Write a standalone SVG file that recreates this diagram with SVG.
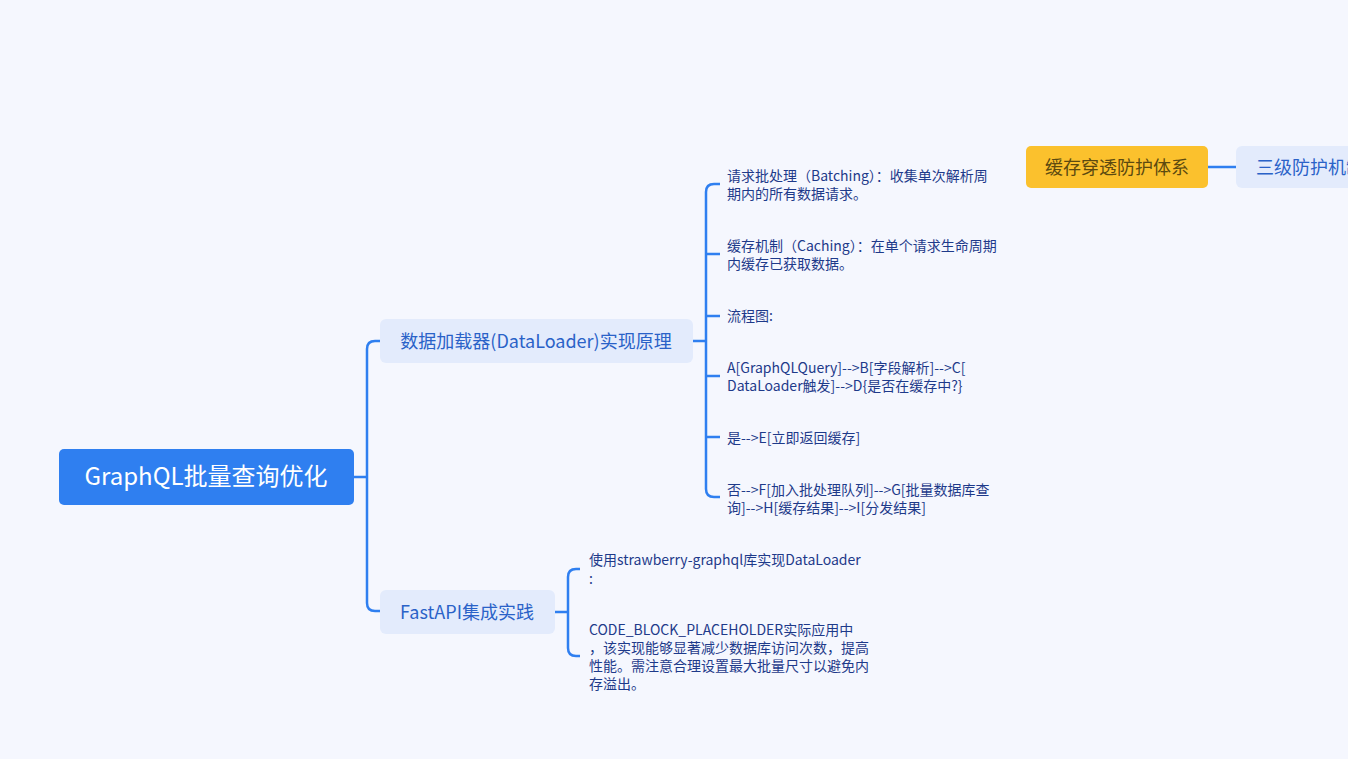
<svg xmlns="http://www.w3.org/2000/svg" width="1348" height="759" viewBox="0 0 1348 759">
<style>
text{font-family:"Noto Sans CJK SC","Noto Sans",sans-serif}
.c{fill:none;stroke:#2f7ff0;stroke-width:2.5}
.sub{fill:#e3ebfc}
.st{font-size:18px;fill:#2a62c8}
.lf{font-size:14px;fill:#1e3a8a}
</style>
<rect width="1348" height="759" fill="#f5f7fe"/>
<g id="connectors">
<path class="c" d="M354 477H367M380 341H375Q367 341 367 349V603Q367 611 375 611H380"/>
<path class="c" d="M693 341H706M720 184H714Q706 184 706 192V489Q706 497 714 497H720M706 254H720M706 316H720M706 376H720M706 437H720"/>
<path class="c" d="M555 612H568M580 569H576Q568 569 568 577V648Q568 656 576 656H580"/>
<path class="c" d="M1208 167H1236"/>
</g>
<g id="root"><rect x="59" y="449" width="295" height="56" rx="5" fill="#2f7ff0"/><text x="206" y="485" font-size="24" fill="#fff" text-anchor="middle">GraphQL批量查询优化</text></g>
<g id="n1"><rect class="sub" x="380" y="319" width="313" height="44" rx="6"/><text class="st" x="536" y="348" text-anchor="middle">数据加载器(DataLoader)实现原理</text></g>
<g id="n2"><rect class="sub" x="380" y="590" width="175" height="44" rx="6"/><text class="st" x="467" y="619" text-anchor="middle">FastAPI集成实践</text></g>
<g id="l1"><text class="lf" x="727" y="181">请求批处理（Batching）：收集单次解析周</text><text class="lf" x="727" y="199">期内的所有数据请求。</text></g>
<g id="l2"><text class="lf" x="727" y="251">缓存机制（Caching）：在单个请求生命周期</text><text class="lf" x="727" y="269">内缓存已获取数据。</text></g>
<g id="l3"><text class="lf" x="727" y="321">流程图:</text></g>
<g id="l4"><text class="lf" x="727" y="373">A[GraphQLQuery]--&gt;B[字段解析]--&gt;C[</text><text class="lf" x="727" y="391">DataLoader触发]--&gt;D{是否在缓存中?}</text></g>
<g id="l5"><text class="lf" x="727" y="443">是--&gt;E[立即返回缓存]</text></g>
<g id="l6"><text class="lf" x="727" y="495">否--&gt;F[加入批处理队列]--&gt;G[批量数据库查</text><text class="lf" x="727" y="513">询]--&gt;H[缓存结果]--&gt;I[分发结果]</text></g>
<g id="l7"><text class="lf" x="589" y="565">使用strawberry-graphql库实现DataLoader</text><text class="lf" x="589" y="584">:</text></g>
<g id="l8"><text class="lf" x="589" y="635">CODE_BLOCK_PLACEHOLDER实际应用中</text><text class="lf" x="589" y="653">，该实现能够显著减少数据库访问次数，提高</text><text class="lf" x="589" y="671">性能。需注意合理设置最大批量尺寸以避免内</text><text class="lf" x="589" y="689">存溢出。</text></g>
<g id="n3"><rect x="1026" y="146" width="182" height="42" rx="5" fill="#fbc12d"/><text x="1117" y="174" font-size="18" fill="#5c4a10" text-anchor="middle">缓存穿透防护体系</text></g>
<g id="n4"><rect class="sub" x="1236" y="146" width="140" height="42" rx="6"/><text class="st" x="1256" y="174">三级防护机制</text></g>
</svg>
